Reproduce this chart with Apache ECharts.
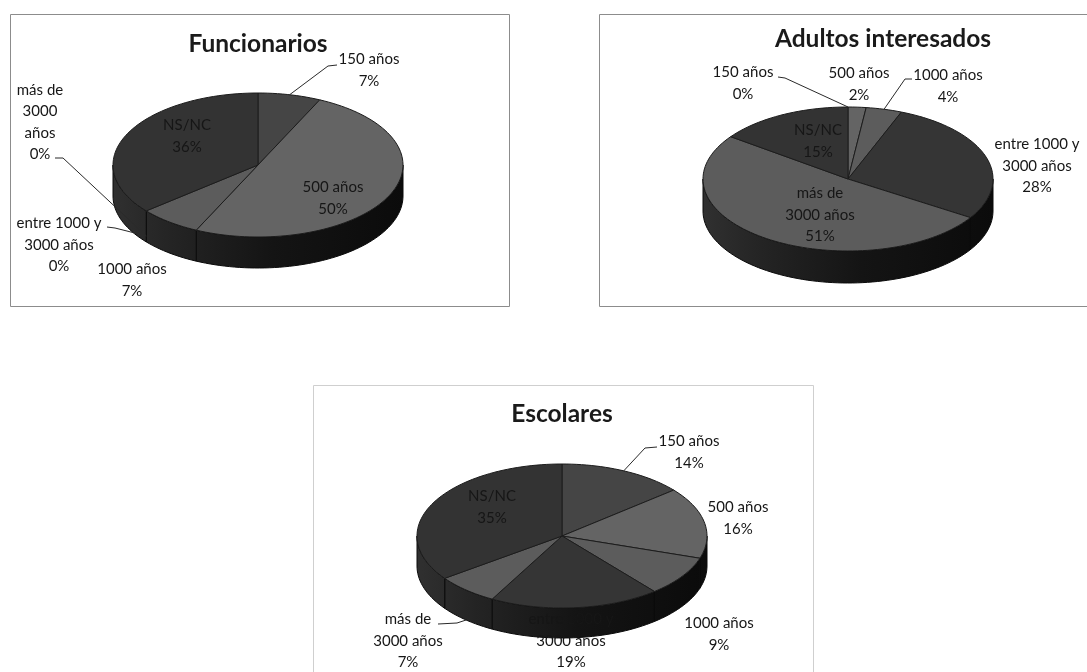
<!DOCTYPE html>
<html><head><meta charset="utf-8">
<style>html,body{margin:0;padding:0;background:#fff}#c{width:1087px;height:672px}</style>
<script src="https://cdn.jsdelivr.net/npm/echarts@6/dist/echarts.min.js"></script>
</head><body><div id="c"></div>
<script>
const categories = ['150 años','500 años','1000 años','entre 1000 y 3000 años','más de 3000 años','NS/NC'];
const funcionarios = [7,50,7,0,0,36];
const adultos = [0,2,4,28,51,15];
const escolares = [14,16,9,19,7,35];
const chartTitles = ['Funcionarios','Adultos interesados','Escolares'];
const funcionariosNames = ['150 años','500 años','1000 años','entre 1000 y\n3000 años','más de\n3000\naños','NS/NC'];
const adultosNames = ['150 años','500 años','1000 años','entre 1000 y\n3000 años','más de\n3000 años','NS/NC'];
const escolaresNames = ['150 años','500 años','1000 años','entre 1000 y\n3000 años','más de\n3000 años','NS/NC'];
const sliceColors = ['#454545','#646464','#5c5c5c','#353535','#5c5c5c','#333333'];

const FONT = 'Lato, "Open Sans", sans-serif';
const panels = [
  { cx:258, cy:165, rx:145, ry:72, depth:31, frame:[10,14,499,292], stroke:'#8c8c8c', titleX:258, titleY:43,
    labels:[[369,70],[333,198],[132,280],[59,245],[40,122],[187,136]],
    leaders:[[[337,65],[328,66]],null,null,[[107,227],[115,228]],[[55,158],[63,158]],null],
    drop:[0,0,0,25,25,0] },
  { cx:848, cy:179, rx:145, ry:72, depth:32, frame:[599,14,520,292], stroke:'#8c8c8c', titleX:883, titleY:38,
    labels:[[743,83],[859,84],[948,86],[1037,166],[820,215],[818,141]],
    leaders:[[[778,77],[785,78]],null,[[912,79],[905,79]],null,null,null],
    drop:[0,0,0,0,0,0] },
  { cx:562, cy:536, rx:145, ry:72, depth:30, frame:[313,385,500,330], stroke:'#cfcfcf', titleX:562, titleY:413,
    labels:[[689,452],[738,518],[719,634],[571,641],[408,641],[492,507]],
    leaders:[[[657,447],[645,448]],null,null,null,[[438,624],[457,623]],null],
    drop:[0,0,0,0,30,0] }
];

function makeRender(values, names, p) {
  const total = values.reduce((a,b)=>a+b,0);
  const pt = (deg, dy) => {
    const t = deg*Math.PI/180;
    return [p.cx + p.rx*Math.sin(t), p.cy - p.ry*Math.cos(t) + (dy||0)];
  };
  const arc = (a,b,dy) => {
    const out=[]; const n=Math.max(1,Math.ceil((b-a)/2));
    for(let i=0;i<=n;i++) out.push(pt(a+(b-a)*i/n,dy));
    return out;
  };
  return function(params){
    const i = params.dataIndex;
    const before = values.slice(0,i).reduce((a,b)=>a+b,0);
    const a0 = before/total*360, a1 = (before+values[i])/total*360, mid=(a0+a1)/2;
    const kids=[];
    const w0=Math.max(a0,90), w1=Math.min(a1,270);
    if(w1>w0){
      const top=arc(w0,w1,0), bottom=arc(w0,w1,p.depth).reverse();
      kids.push({type:'polygon',z2:1,shape:{points:top.concat(bottom)},
        style:{fill:new echarts.graphic.LinearGradient(p.cx+p.rx,0,p.cx-p.rx,0,[
          {offset:0,color:'#0b0b0b'},{offset:.45,color:'#141414'},{offset:.8,color:'#242424'},{offset:1,color:'#303030'}],true),
          stroke:'#0a0a0a',lineWidth:1}});
    }
    if(values[i]>0){
      kids.push({type:'polygon',z2:2,shape:{points:[[p.cx,p.cy]].concat(arc(a0,a1,0))},
        style:{fill:sliceColors[i],stroke:'#1c1c1c',lineWidth:1}});
    }
    if(p.leaders[i]){
      kids.push({type:'polyline',z2:3,shape:{points:p.leaders[i].concat([pt(mid,p.drop[i])])},
        style:{fill:null,stroke:'#2a2a2a',lineWidth:1}});
    }
    kids.push({type:'text',z2:4,x:p.labels[i][0],y:p.labels[i][1],
      style:{text:names[i]+'\n'+values[i]+'%',textAlign:'center',textVerticalAlign:'middle',
        font:'15px '+FONT,lineHeight:21.5,fill:'#161616'}});
    return {type:'group',children:kids};
  };
}

const sets=[[funcionarios,funcionariosNames],[adultos,adultosNames],[escolares,escolaresNames]];
const chart=echarts.init(document.getElementById('c'));
chart.setOption({
  animation:false,
  backgroundColor:'#fff',
  title:chartTitles.map((t,k)=>({text:t,left:panels[k].titleX-5,top:panels[k].titleY-16,
    textAlign:'center',textStyle:{fontFamily:FONT,fontWeight:'bold',fontSize:24.5,color:'#1a1a1a'}})),
  graphic:panels.map(p=>({type:'rect',z:-1,silent:true,
    shape:{x:p.frame[0]+.5,y:p.frame[1]+.5,width:p.frame[2],height:p.frame[3]},
    style:{fill:'#fff',stroke:p.stroke,lineWidth:1}})),
  series:sets.map((s,k)=>({
    type:'custom',coordinateSystem:'none',name:chartTitles[k],silent:true,
    data:s[0].map((v,i)=>({name:categories[i],value:v})),
    renderItem:makeRender(s[0],s[1],panels[k])
  }))
});
</script></body></html>
